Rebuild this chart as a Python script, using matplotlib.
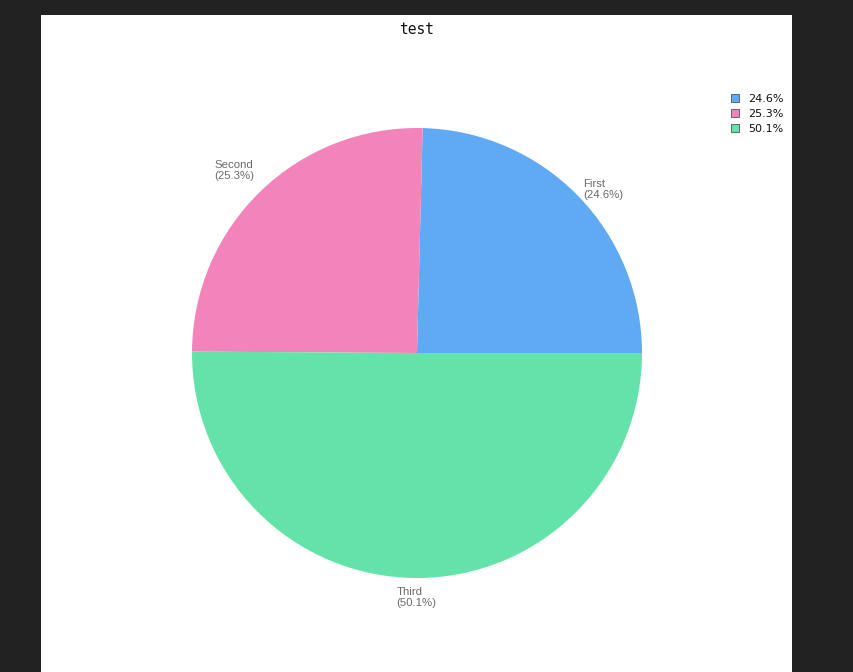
import matplotlib
matplotlib.use("Agg")
import matplotlib.pyplot as plt
import numpy as np
from matplotlib.patches import Rectangle, Patch

categories = ["First", "Second", "Third"]
values = [24.6, 25.3, 50.1]
legend_labels = ["24.6%", "25.3%", "50.1%"]
colors = ["#60aaf4", "#f283bb", "#63e3aa"]
title = "test"

W, H = 854, 672
fig = plt.figure(figsize=(W / 100, H / 100), dpi=100)
fig.patch.set_facecolor("#222222")

bg = fig.add_axes([0, 0, 1, 1], zorder=-10)
bg.set_xlim(0, W)
bg.set_ylim(H, 0)
bg.axis("off")
bg.add_patch(Rectangle((41, 15), 792 - 41, H - 15, facecolor="white", edgecolor="none"))

cx, cy, r = 417, 353, 225
ax = fig.add_axes([(cx - r) / W, (H - cy - r) / H, 2 * r / W, 2 * r / H], zorder=1)
ax.set_facecolor("none")
wedges, _ = ax.pie(values, colors=colors, startangle=0, counterclock=True,
                   radius=1.0, wedgeprops=dict(linewidth=0))
ax.set_xlim(-1, 1)
ax.set_ylim(-1, 1)
ax.set_aspect("equal")
ax.axis("off")

total = sum(values)
start = 0.0
aligns = [("left", "center", (-1, 0)), ("right", "bottom", (0, 3)), ("center", "top", (0, 0))]
for i, (cat, v) in enumerate(zip(categories, values)):
    ang = np.deg2rad(start + v / total * 360 / 2)
    start += v / total * 360
    rr = 1.04
    x, y = rr * np.cos(ang), rr * np.sin(ang)
    ha, va, off = aligns[i]
    ax.annotate(f"{cat}\n({v:.1f}%)", (x, y), xytext=off, textcoords="offset points",
                ha=ha, va=va, multialignment="left",
                fontsize=8.2, color="#6a6a6a", family="Liberation Sans",
                linespacing=1.15, annotation_clip=False)

fig.text(cx / W, 1 - 29 / H, title, ha="center", va="center",
         family="DejaVu Sans Mono", fontsize=10.5, color="#111111")

handles = [Patch(facecolor=c, edgecolor="#555555", linewidth=0.6) for c in colors]
leg = fig.legend(handles, legend_labels, loc="upper left",
                 bbox_to_anchor=(723 / W, 1 - 86 / H), frameon=False,
                 fontsize=8, handlelength=0.75, handleheight=0.75,
                 handletextpad=0.85, labelspacing=0.45, borderpad=0.2)
for t in leg.get_texts():
    t.set_color("#111111")

fig.savefig("out.png", dpi=100, facecolor=fig.get_facecolor())
